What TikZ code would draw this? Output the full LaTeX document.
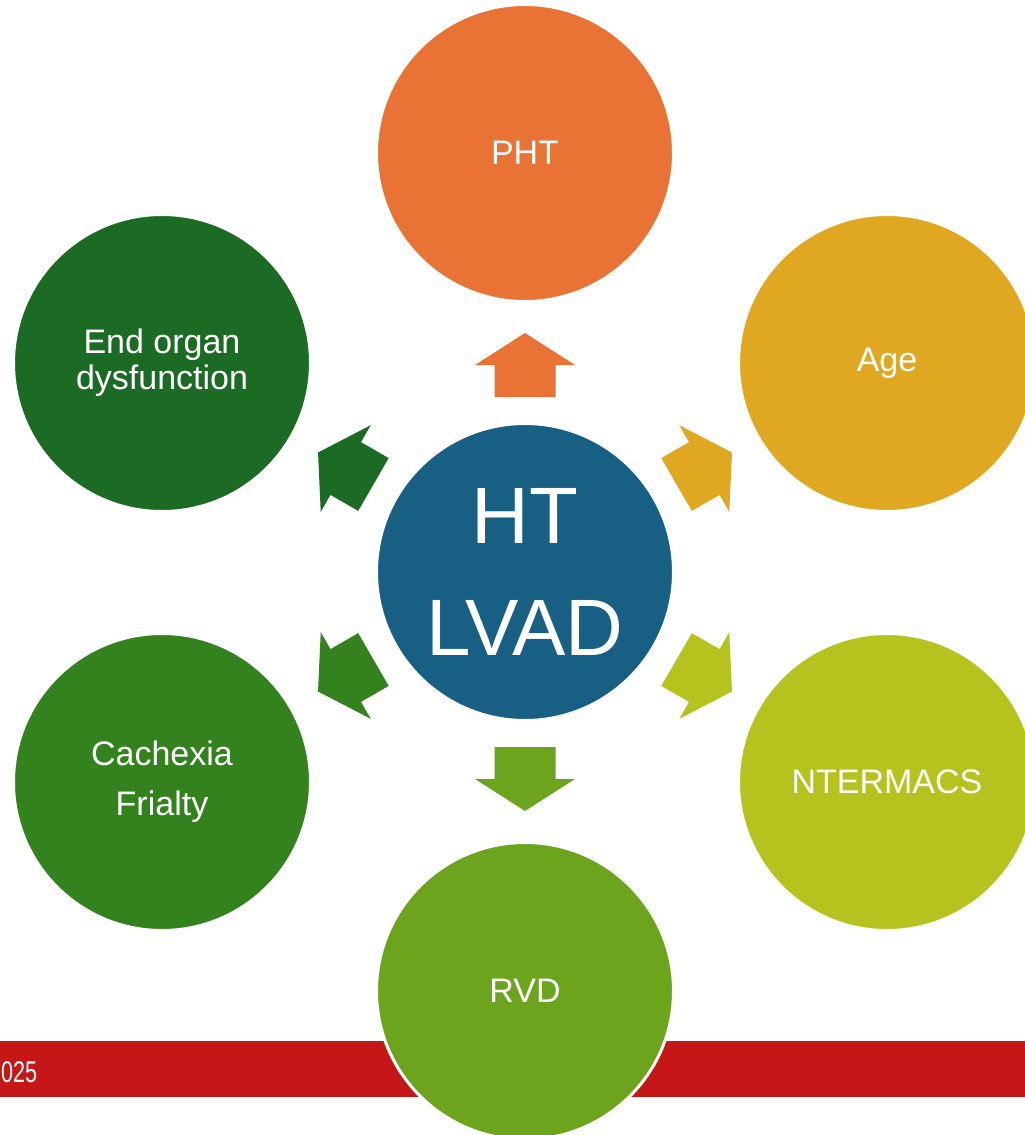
\documentclass[tikz,border=0pt]{standalone}
\usepackage{fontspec}
\setmainfont{Liberation Sans}
\newfontfamily\narrowfont[FakeStretch=0.72]{Liberation Sans}
\usetikzlibrary{positioning}
\definecolor{hubblue}{RGB}{23,96,132}
\definecolor{phtorange}{RGB}{233,115,52}
\definecolor{agegold}{RGB}{224,168,32}
\definecolor{ntlime}{RGB}{182,194,30}
\definecolor{rvdgreen}{RGB}{108,164,30}
\definecolor{cachgreen}{RGB}{52,130,30}
\definecolor{organgreen}{RGB}{28,107,36}
\definecolor{barred}{RGB}{197,22,24}
\tikzset{
  bubble/.style={circle, draw=white, line width=3pt, minimum size=297pt,
    inner sep=0pt, align=center, text=white,
    font=\fontsize{34}{36}\selectfont},
  hubbubble/.style={bubble, font=\fontsize{80}{112}\selectfont}
}
\begin{document}
\begin{tikzpicture}[x=1pt, y=-1pt]
\clip (0,0) rectangle (1025,1135);
\fill[white] (0,0) rectangle (1025,1135);

% footer bar
\fill[barred] (0,1041) rectangle (1025,1097);
\node[anchor=west, text=white, inner sep=0pt,
      font=\narrowfont\fontsize{30}{30}\selectfont] (year) at (1,1072) {025};

% hub and factors
\node[hubbubble, fill=hubblue] (hub) at (525,572) {HT\\LVAD};
\node[bubble, fill=phtorange] (pht) at (525,153) {PHT};
\node[bubble, fill=agegold] (age) at (887,363) {Age};
\node[bubble, fill=ntlime] (ntermacs) at (887,782) {NTERMACS};
\node[bubble, fill=rvdgreen] (rvd) at (525,991) {RVD};
\node[bubble, fill=cachgreen, font=\fontsize{34}{50}\selectfont] (cachexia) at (162,782) {Cachexia\\Frialty};
\node[bubble, fill=organgreen] (organ) at (162,363) {End organ\\dysfunction};

% block arrows out of the hub
\foreach \ang/\col in {90/phtorange, 30/agegold, -30/ntlime,
                       -90/rvdgreen, 210/cachgreen, 150/organgreen}{
  \begin{scope}[shift={(hub.center)}, rotate=\ang]
    \fill[\col] (175,-30.5) -- (207,-30.5) -- (207,-50) -- (239,0)
      -- (207,50) -- (207,30.5) -- (175,30.5) -- cycle;
  \end{scope}
}
\end{tikzpicture}
\end{document}
